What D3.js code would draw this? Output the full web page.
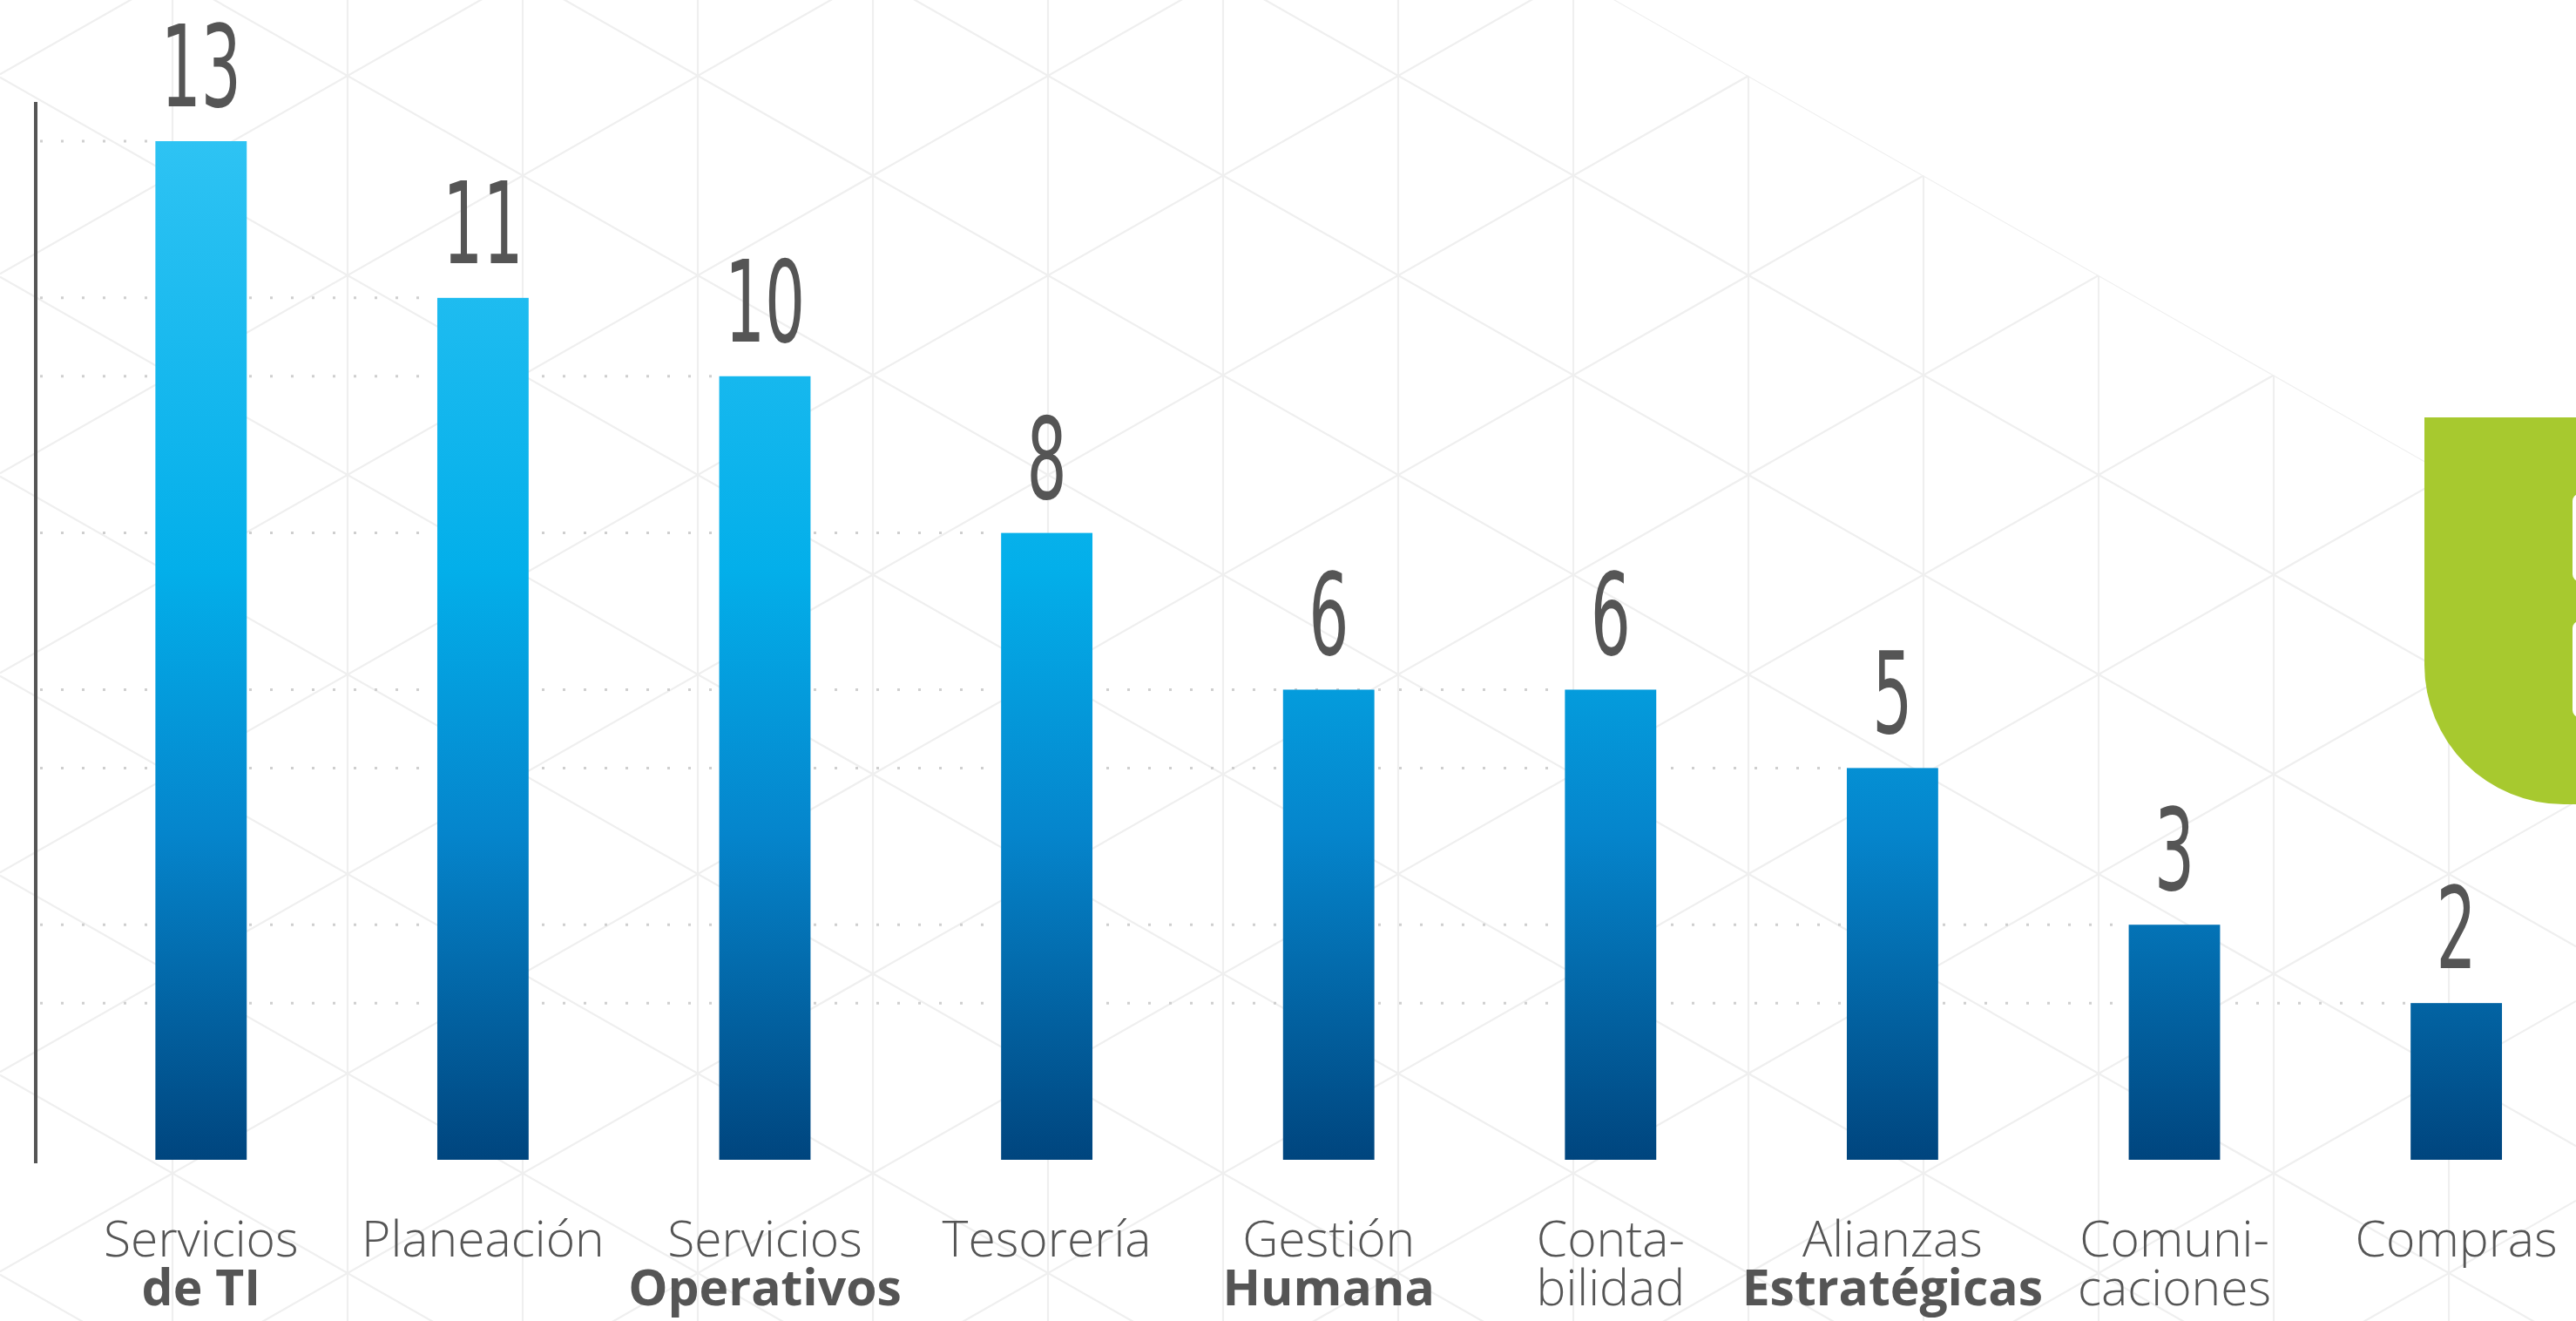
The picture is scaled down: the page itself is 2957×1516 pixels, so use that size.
<!DOCTYPE html>
<html>
<head>
<meta charset="utf-8">
<script src="https://cdn.jsdelivr.net/npm/d3@7"></script>
<style>
  html, body { margin: 0; padding: 0; background: #fff; overflow: hidden; }
  svg { display: block; }
</style>
</head>
<body>
<svg id="chart"></svg>
<script>
// Areas and number of items per area
const categories = ["Servicios de TI", "Planeación", "Servicios Operativos", "Tesorería",
  "Gestión Humana", "Contabilidad", "Alianzas Estratégicas", "Comunicaciones", "Compras"];
const values = [13, 11, 10, 8, 6, 6, 5, 3, 2];

// Category labels split over two lines; the second line is bold for some areas
const labelLine1 = ["Servicios", "Planeación", "Servicios", "Tesorería", "Gestión", "Conta-", "Alianzas", "Comuni-", "Compras"];
const labelLine2 = ["de TI", "", "Operativos", "", "Humana", "bilidad", "Estratégicas", "caciones", ""];
const labelLine2Bold = [true, false, true, false, true, false, true, false, false];

const W = 2957, H = 1516;
const svg = d3.select("#chart").attr("width", W).attr("height", H);
const defs = svg.append("defs");

// ---- background: faint triangular lattice ----
const cell = 201, rise = 114.5, slope = rise / cell;
const ox = -3, oy = 87;                    // a lattice node on an even column
const nodeX = ox + cell * 2;               // x = 399
const cutY = xx => oy + slope * (xx - (ox + cell * 10)); // upper-right edge of the lattice
defs.append("clipPath").attr("id", "latticeClip")
  .append("polygon")
  .attr("points", [[0, 0], [(ox + cell * 10) - oy / slope, 0], [W, cutY(W)], [W, H], [0, H]].map(p => p.join(",")).join(" "));

const lattice = svg.append("g")
  .attr("clip-path", "url(#latticeClip)")
  .attr("stroke", "#efefef").attr("stroke-width", 2.2).attr("fill", "none");

d3.range(0, 16).forEach(k => {
  const xx = ox + cell * k;
  lattice.append("line").attr("x1", xx).attr("x2", xx).attr("y1", 0).attr("y2", H);
});
d3.range(-25, 25).forEach(m => {
  const c1 = oy - slope * nodeX + 2 * rise * m;
  lattice.append("line").attr("x1", 0).attr("y1", c1).attr("x2", W).attr("y2", c1 + slope * W);
  const c2 = oy + slope * nodeX + 2 * rise * m;
  lattice.append("line").attr("x1", 0).attr("y1", c2).attr("x2", W).attr("y2", c2 - slope * W);
});

// ---- green corner tab on the right ----
svg.append("path")
  .attr("d", "M2783,479 H" + W + " V923 H2943 A160,160 0 0 1 2783,763 Z")
  .attr("fill", "#a7c92f");
svg.append("rect").attr("x", 2953).attr("y", 567).attr("width", 20).attr("height", 100).attr("rx", 8).attr("fill", "#fff");
svg.append("rect").attr("x", 2953).attr("y", 713).attr("width", 20).attr("height", 110).attr("rx", 8).attr("fill", "#fff");

// ---- scales ----
const x = d3.scaleBand()
  .domain(categories)
  .range([69, 69 + 9 * 323.6])
  .paddingInner(0.676)
  .paddingOuter(0.338);

const y = d3.scaleLinear()
  .domain([0, 13])
  .range([1331, 162]);

// vertical gradient shared by all bars
const grad = defs.append("linearGradient")
  .attr("id", "barGrad")
  .attr("gradientUnits", "userSpaceOnUse")
  .attr("x1", 0).attr("x2", 0)
  .attr("y1", y(13)).attr("y2", y(0));
[[0, "#2ec3f3"], [0.42, "#03afea"], [0.68, "#0585cc"], [1, "#00457e"]].forEach(([o, c]) =>
  grad.append("stop").attr("offset", o).attr("stop-color", c));

// ---- dotted guide lines, from the axis to the last bar of each value ----
const guideVals = Array.from(new Set(values));
svg.append("g").selectAll("line")
  .data(guideVals)
  .join("line")
  .attr("x1", 46)
  .attr("x2", v => x(categories[values.lastIndexOf(v)]))
  .attr("y1", v => y(v)).attr("y2", v => y(v))
  .attr("stroke", "#cfcfcf")
  .attr("stroke-width", 3)
  .attr("stroke-dasharray", "3 21");

// ---- axis line ----
svg.append("line")
  .attr("x1", 41).attr("x2", 41)
  .attr("y1", y(13.5)).attr("y2", y(0) + 4)
  .attr("stroke", "#555").attr("stroke-width", 4);

// ---- bars ----
svg.append("g").selectAll("rect")
  .data(values)
  .join("rect")
  .attr("x", (d, i) => x(categories[i]))
  .attr("width", x.bandwidth())
  .attr("y", d => y(d))
  .attr("height", d => y(0) - y(d))
  .attr("fill", "url(#barGrad)");

// ---- value labels ----
svg.append("g").selectAll("text")
  .data(values)
  .join("text")
  .attr("transform", (d, i) => `translate(${x(categories[i]) + x.bandwidth() / 2},${y(d) - 40}) scale(0.62,1)`)
  .attr("text-anchor", "middle")
  .attr("font-family", "'DejaVu Sans Condensed', 'DejaVu Sans', sans-serif")
  .attr("font-size", 130)
  .attr("fill", "#555")
  .text(d => d);

// ---- category labels ----
const lab = svg.append("g")
  .attr("font-family", "'Open Sans', sans-serif")
  .attr("font-size", 57)
  .attr("fill", "#555")
  .attr("text-anchor", "middle");

categories.forEach((c, i) => {
  const cx = x(c) + x.bandwidth() / 2;
  const t = lab.append("text").attr("x", cx).attr("y", 1442);
  t.append("tspan").attr("font-weight", 300).text(labelLine1[i]);
  if (labelLine2[i]) {
    t.append("tspan").attr("x", cx).attr("dy", 56)
      .attr("font-weight", labelLine2Bold[i] ? 700 : 300)
      .text(labelLine2[i]);
  }
});
</script>
</body>
</html>
